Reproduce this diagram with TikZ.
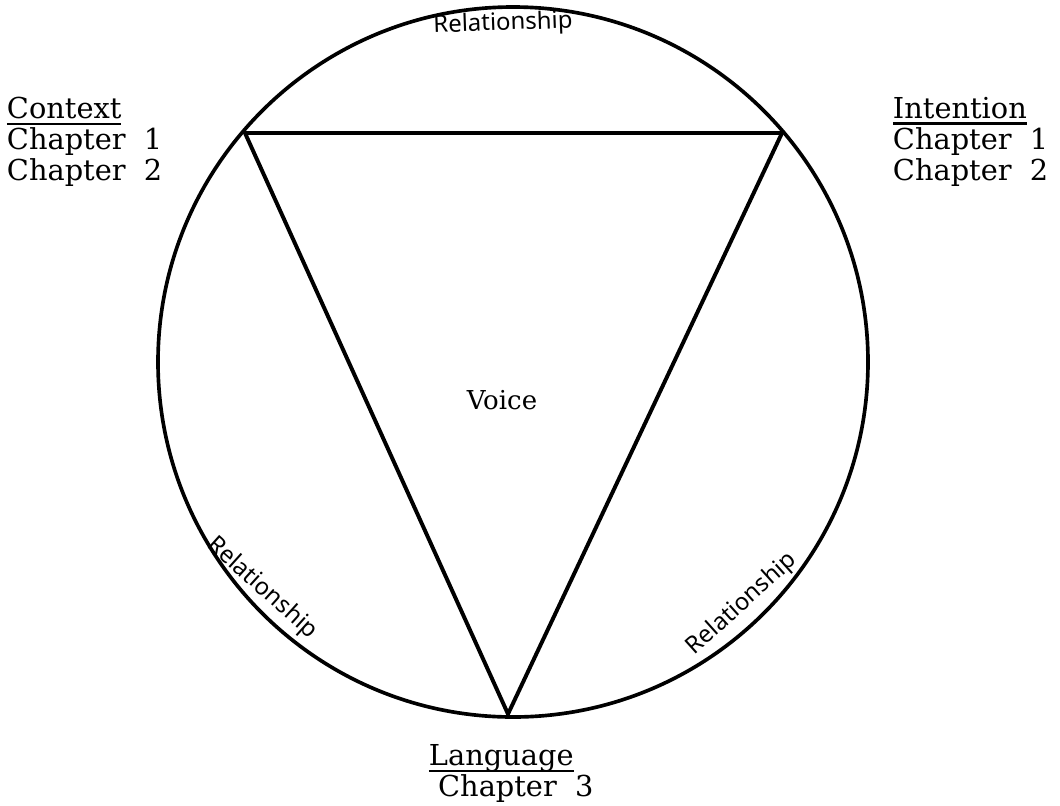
\documentclass[tikz,border=0pt]{standalone}
\usepackage{fontspec}
\setmainfont{DejaVu Serif}
\setsansfont{Noto Sans}
\newcommand\thickul[1]{\setbox0\hbox{#1}\rlap{\copy0}\rule[-4.5pt]{\wd0}{1.5pt}}
\tikzset{
  corner/.style={align=left,anchor=north west,font=\fontsize{20.5}{22}\selectfont},
  rel/.style={font=\sffamily\fontsize{17}{17}\selectfont},
}
\begin{document}
\begin{tikzpicture}[x=0.025cm,y=-0.025cm]
\useasboundingbox (0,0) rectangle (1060,805);
\draw[line width=2.6pt] (513,362) circle[radius=355];
\coordinate (ctx) at (245,133);
\coordinate (int) at (782,133);
\coordinate (lang) at (508,714);
\draw[line width=2.8pt,line join=miter] (ctx)--(int)--(lang)--cycle;
\node[font=\fontsize{18.5}{20}\selectfont] (voice) at (502,400) {Voice};
\node[corner] (context) at (2,92) {\thickul{Context}\\Chapter\ \ 1\\Chapter\ \ 2};
\node[corner] (intention) at (888,92) {\thickul{Intention}\\Chapter\ \ 1\\Chapter\ \ 2};
\node[corner] (language) at (424,740) {\thickul{Language}\\\ Chapter\ \ 3};
\node[rel,rotate=2] (reltop) at (503,24) {Relationship};
\node[rel,rotate=-42] (relleft) at (262,588) {Relationship};
\node[rel,rotate=42] (relright) at (742,604) {Relationship};
\end{tikzpicture}
\end{document}
